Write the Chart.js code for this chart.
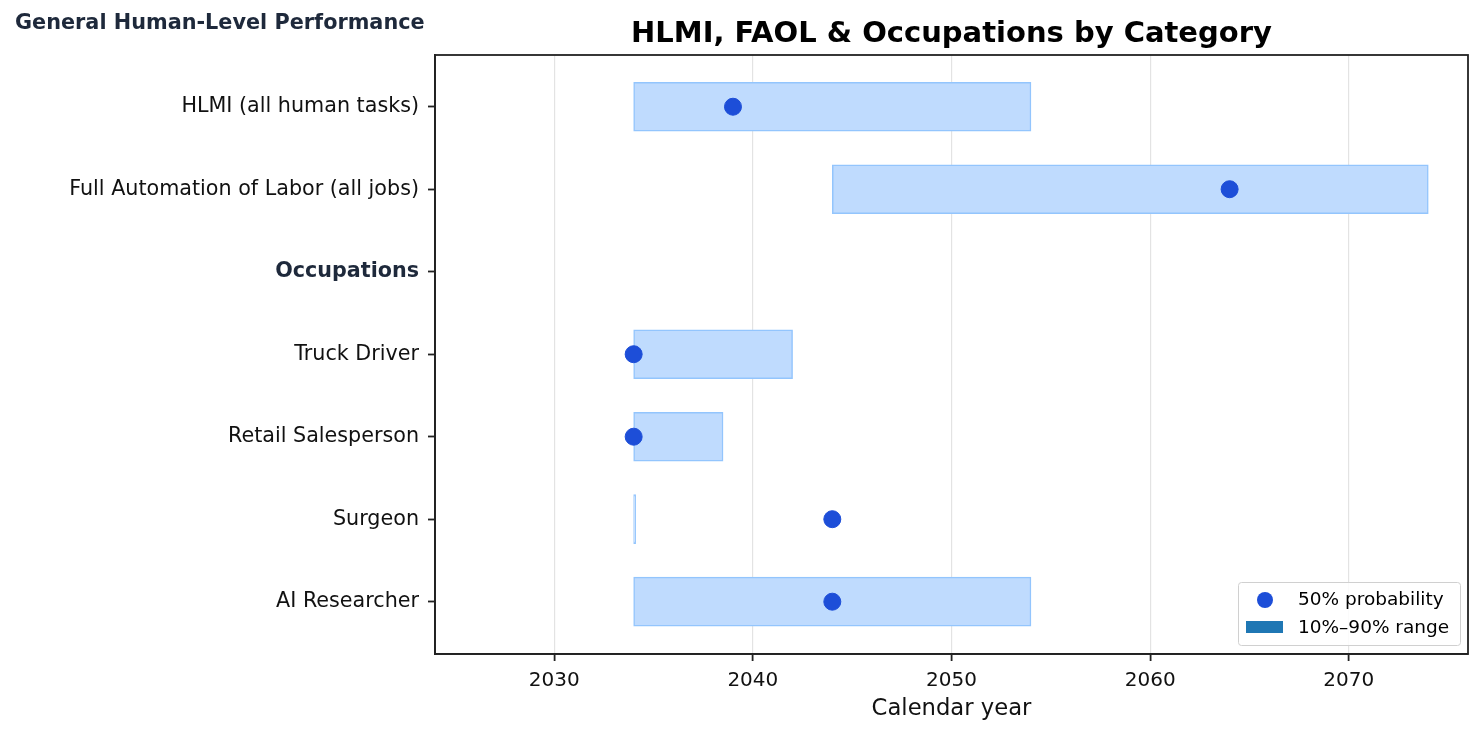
<!DOCTYPE html>
<html lang="en">
<head>
  <meta charset="UTF-8" />
  <title>HLMI, FAOL & Occupations by Category</title>
  <script src="https://cdn.jsdelivr.net/npm/chart.js"></script>
  <style>
    html, body { margin: 0; padding: 0; background: #fff; }
    #wrap { width: 1483px; height: 735px; }
  </style>
</head>
<body>
  <div id="wrap"><canvas id="chart" width="1483" height="735"></canvas></div>

  <script>
    // data
    const categories = [
      'HLMI (all human tasks)',
      'Full Automation of Labor (all jobs)',
      'Occupations',
      'Truck Driver',
      'Retail Salesperson',
      'Surgeon',
      'AI Researcher'
    ];
    const rangeLow  = [2034, 2044, null, 2034, 2034,   2034,   2034];
    const rangeHigh = [2054, 2074, null, 2042, 2038.5, 2034.1, 2054];
    const median    = [2039, 2064, null, 2034, 2034,   2044,   2044];
    const yearTicks = [2030, 2040, 2050, 2060, 2070];

    const FONT = "'DejaVu Sans', sans-serif";

    const barData = [];
    const dotData = [];
    categories.forEach((c, i) => {
      if (rangeLow[i] !== null) barData.push({ x: [rangeLow[i], rangeHigh[i]], y: i });
      if (median[i] !== null) dotData.push({ x: median[i], y: i });
    });

    // title, frame, legend and the top-left heading
    const extras = {
      id: 'extras',
      afterDraw(chart) {
        const { ctx, chartArea: a } = chart;
        ctx.save();
        // frame
        ctx.strokeStyle = '#222';
        ctx.lineWidth = 1.8;
        ctx.strokeRect(a.left, a.top, a.right - a.left, a.bottom - a.top);

        // title
        ctx.fillStyle = '#000';
        ctx.font = `bold 29px ${FONT}`;
        ctx.textAlign = 'center';
        ctx.textBaseline = 'middle';
        ctx.fillText('HLMI, FAOL & Occupations by Category', (a.left + a.right) / 2, 34);

        // heading top-left
        ctx.fillStyle = '#1e293b';
        ctx.font = `bold 20.8px ${FONT}`;
        ctx.textAlign = 'left';
        ctx.fillText('General Human-Level Performance', 15, 24);

        // legend
        const lx = 1238, ly = 582, lw = 222, lh = 63;
        ctx.fillStyle = 'rgba(255,255,255,0.85)';
        ctx.strokeStyle = '#d0d0d0';
        ctx.lineWidth = 1;
        ctx.beginPath();
        ctx.roundRect(lx + 0.5, ly + 0.5, lw, lh, 3);
        ctx.fill();
        ctx.stroke();

        ctx.fillStyle = '#1d4ed8';
        ctx.beginPath();
        ctx.arc(lx + 27, ly + 18, 8, 0, Math.PI * 2);
        ctx.fill();
        ctx.fillStyle = '#1f77b4';
        ctx.fillRect(lx + 8, ly + 39, 37, 12);

        ctx.fillStyle = '#000';
        ctx.font = `18.5px ${FONT}`;
        ctx.textAlign = 'left';
        ctx.fillText('50% probability', lx + 60, ly + 18);
        ctx.fillText('10%\u201390% range', lx + 60, ly + 46);
        ctx.restore();
      }
    };

    new Chart(document.getElementById('chart'), {
      type: 'bar',
      data: {
        datasets: [
          {
            type: 'scatter',
            label: '50% probability',
            data: dotData,
            backgroundColor: '#1d4ed8',
            borderColor: '#1d4ed8',
            pointRadius: 8.5,
            pointHoverRadius: 8.5,
            order: 0
          },
          {
            type: 'bar',
            label: '10%–90% range',
            data: barData,
            backgroundColor: '#bfdbfe',
            borderColor: '#93c5fd',
            borderWidth: 1.5,
            borderSkipped: false,
            barThickness: 49,
            grouped: false,
            order: 1
          }
        ]
      },
      options: {
        indexAxis: 'y',
        responsive: false,
        animation: false,
        layout: { padding: { top: 55, right: 15, left: 0, bottom: 0 } },
        plugins: {
          legend: { display: false },
          title: { display: false },
          tooltip: { enabled: false }
        },
        scales: {
          x: {
            type: 'linear',
            min: 2024,
            max: 2076,
            afterBuildTicks: s => { s.ticks = yearTicks.map(v => ({ value: v })); },
            afterFit: s => { s.height = 81; },
            border: { display: true, color: '#222', width: 1.8 },
            grid: { color: '#e3e3e3', lineWidth: 1.2, tickColor: '#222', tickWidth: 1.8, tickLength: 7 },
            ticks: {
              color: '#111',
              font: { family: FONT, size: 20 },
              padding: 8,
              maxRotation: 0,
              callback: v => String(v)
            },
            title: {
              display: true,
              text: 'Calendar year',
              color: '#111',
              font: { family: FONT, size: 22.7 },
              padding: { top: 0, bottom: 12 }
            }
          },
          y: {
            type: 'linear',
            reverse: true,
            offset: false,
            min: -0.627,
            max: 6.634,
            afterBuildTicks: s => { s.ticks = categories.map((c, i) => ({ value: i })); },
            afterFit: s => { s.width = 435; },
            border: { display: true, color: '#222', width: 1.8 },
            grid: { offset: false, drawOnChartArea: false, tickColor: '#222', tickWidth: 1.8, tickLength: 7 },
            ticks: {
              padding: 9,
              callback: v => categories[v],
              color: c => categories[c.index] === 'Occupations' ? '#1e293b' : '#111',
              font: c => ({
                family: FONT,
                size: 20.7,
                weight: categories[c.index] === 'Occupations' ? 'bold' : 'normal'
              })
            }
          }
        }
      },
      plugins: [extras]
    });
  </script>
</body>
</html>
